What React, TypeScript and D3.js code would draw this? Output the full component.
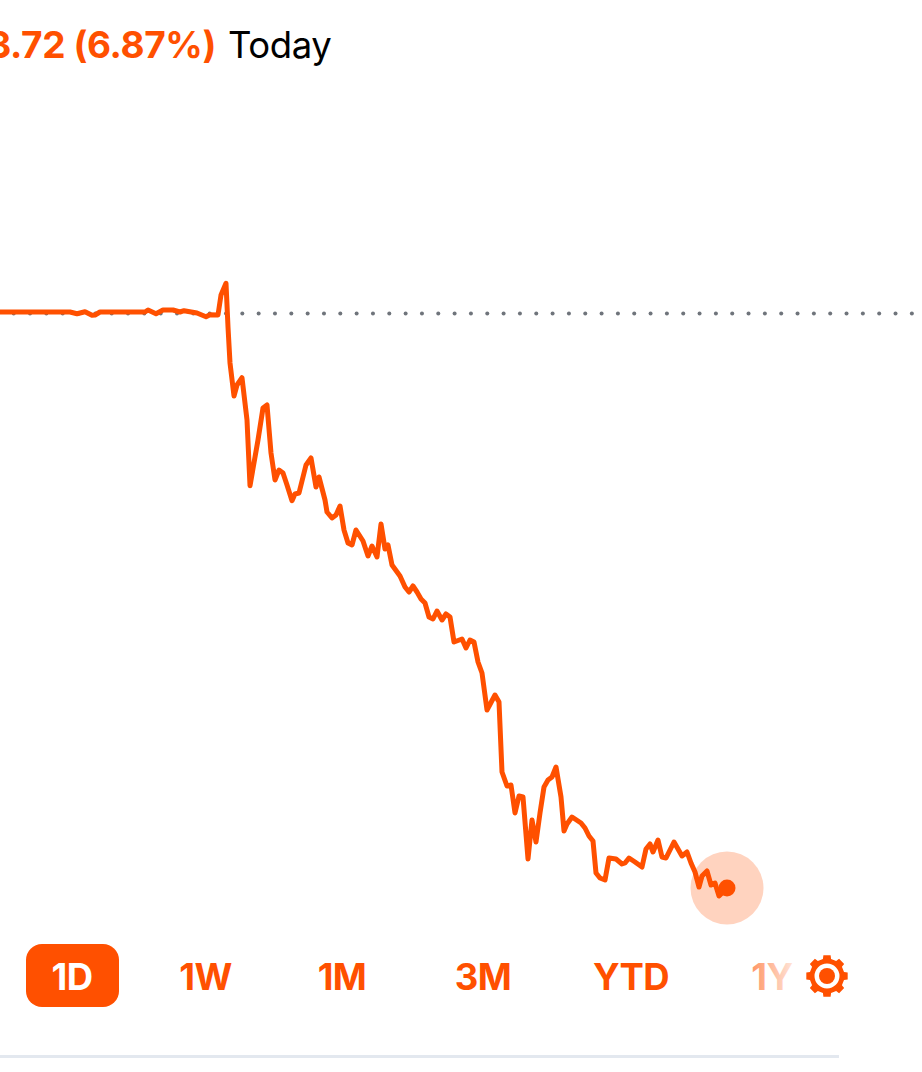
import React from "react";
import * as d3 from "d3";

const ORANGE = "#ff5000";

// Session clock, in the chart's horizontal units
const times = [
  0, 70, 77, 85, 92, 95, 100, 145, 148, 156, 163, 173, 180, 184, 197, 206, 210, 218, 221, 226,
  228, 230, 234, 237, 242, 247, 250, 258, 263, 267, 271, 275, 279, 283, 287, 292, 295, 299, 306, 311,
  316, 319, 325, 327, 332, 336, 340, 344, 348, 352, 356, 363, 368, 372, 377, 381, 385, 388, 392, 400,
  405, 409, 413, 417, 421, 425, 429, 433, 437, 442, 446, 450, 454, 462, 466, 470, 474, 478, 482, 487,
  495, 499, 502, 507, 511, 515, 519, 523, 528, 532, 536, 540, 544, 548, 552, 556, 561, 564, 567, 572,
  581, 585, 589, 593, 596, 600, 605, 609, 616, 622, 625, 629, 635, 642, 646, 650, 653, 658, 662, 666,
  674, 682, 687, 691, 695, 699, 702, 707, 711, 715, 719, 723, 727,
];

// Price level, in the chart's vertical units (higher is up)
const prices = [
  688, 688, 686.3, 688.3, 684.7, 685, 688, 688, 690, 686.3, 690, 690, 688, 689.3, 687, 683.3, 685.3, 685, 705, 716.7,
  673, 637, 604, 615, 622.3, 580, 514.3, 560, 592, 595, 547, 520, 530, 527, 515, 499.3, 506, 507, 535, 542,
  513, 523, 500, 488, 482, 485, 494, 470, 457, 455, 470, 459, 444, 454, 443, 476, 451, 455, 435, 424,
  413, 408, 414, 408, 401, 397, 383, 381, 389, 380, 386, 383, 358, 361, 352, 360, 358, 338, 327, 290,
  305, 298, 228, 214, 215, 187, 204, 203, 141, 180, 158, 187, 213, 220, 223, 233, 203, 169, 176, 183,
  177, 172, 164, 159, 127, 122, 120, 142, 141, 136, 137, 142, 138, 133, 151, 156, 148, 160, 143, 142,
  158, 144, 148, 137, 128, 113, 124, 129, 115, 117, 104, 108, 112,
];

const previousClose = 686.5;
const ranges = ["1D", "1W", "1M", "3M", "YTD", "1Y"];
const changeLabel = "3.72 (6.87%)";
const todayLabel = "Today";

const W = 922;
const H = 1072;
const x = d3.scaleLinear().domain([0, W]).range([0, W]);
const y = d3.scaleLinear().domain([0, 1000]).range([1000, 0]);
const line = d3
  .line<number>()
  .x((_, i) => x(times[i]))
  .y((d) => y(d));

const rangeCenters = d3.scaleOrdinal<string, number>().domain(ranges).range([72, 205.5, 342, 483, 631, 772]);

function gearPath(cx: number, cy: number, teeth: number, rOuter: number, rBody: number) {
  const pts: [number, number][] = [];
  const step = (2 * Math.PI) / teeth;
  for (let i = 0; i < teeth; i++) {
    const a = i * step - Math.PI / 2;
    const tw = step * 0.22;
    const bw = step * 0.3;
    [
      [a - bw, rBody],
      [a - tw, rOuter],
      [a + tw, rOuter],
      [a + bw, rBody],
    ].forEach(([t, r]) => pts.push([cx + r * Math.cos(t), cy + r * Math.sin(t)]));
  }
  return d3.line().curve(d3.curveLinearClosed)(pts) as string;
}

export default function App() {
  const last = prices.length - 1;
  const dotXs = d3.range(13.7, 915, 16.33);
  const font = "Inter, 'Noto Sans', sans-serif";
  return (
    <svg
      width={W}
      height={H}
      viewBox={`0 0 ${W} ${H}`}
      style={{ position: "absolute", left: 0, top: 0, background: "#fff", display: "block" }}
    >
      <defs>
        <linearGradient id="fade" gradientUnits="userSpaceOnUse" x1={752} x2={793} y1={0} y2={0}>
          <stop offset="0" stopColor={ORANGE} stopOpacity={0.6} />
          <stop offset="1" stopColor={ORANGE} stopOpacity={0.15} />
        </linearGradient>
      </defs>

      <text x={216} y={58} textAnchor="end" fontFamily={font} fontWeight={700} fontSize={37} letterSpacing={-0.4} fill={ORANGE}>
        {changeLabel}
      </text>
      <text x={228} y={58} fontFamily={font} fontWeight={400} fontSize={36.5} letterSpacing={-0.4} fill="#000">
        {todayLabel}
      </text>

      {dotXs.map((d) => (
        <circle key={d} cx={x(d)} cy={y(previousClose)} r={2} fill="#6f747b" />
      ))}

      <path
        d={line(prices) as string}
        fill="none"
        stroke={ORANGE}
        strokeWidth={5}
        strokeLinejoin="round"
        strokeLinecap="round"
      />
      <circle cx={x(times[last])} cy={y(prices[last])} r={36.5} fill={ORANGE} fillOpacity={0.25} />
      <circle cx={x(times[last])} cy={y(prices[last])} r={8.5} fill={ORANGE} />

      <rect x={26} y={944} width={93} height={63} rx={16} fill={ORANGE} />
      {ranges.map((r, i) => (
        <text
          key={r}
          x={rangeCenters(r)}
          y={990}
          textAnchor="middle"
          fontFamily={font}
          fontWeight={700}
          fontSize={36.5}
          letterSpacing={-0.5}
          fill={i === 0 ? "#fff" : r === "1Y" ? "url(#fade)" : ORANGE}
        >
          {r}
        </text>
      ))}

      <path
        fillRule="evenodd"
        fill={ORANGE}
        d={
          gearPath(827, 976, 8, 21, 17.5) +
          " M 839.5 976 A 12.5 12.5 0 1 0 814.5 976 A 12.5 12.5 0 1 0 839.5 976 Z"
        }
      />
      <circle cx={827} cy={976} r={8} fill={ORANGE} />

      <rect x={0} y={1055} width={839} height={3} fill="#e3e8ef" />
    </svg>
  );
}
